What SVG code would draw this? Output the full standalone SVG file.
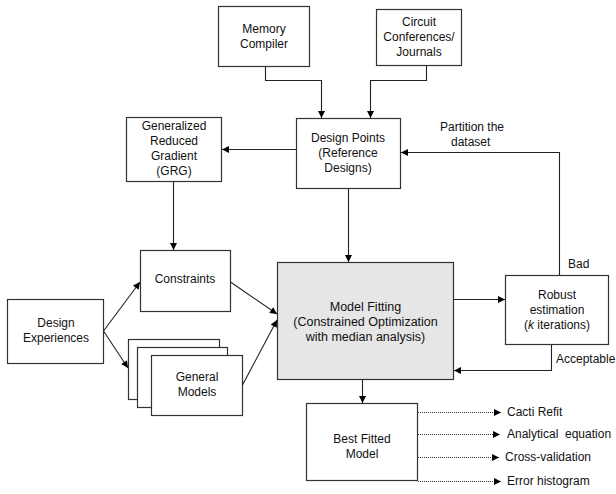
<svg xmlns="http://www.w3.org/2000/svg" width="616" height="494" viewBox="0 0 616 494">
<defs>
<marker id="ah" viewBox="0 0 10 10" refX="10" refY="5" markerWidth="8" markerHeight="7" markerUnits="userSpaceOnUse" orient="auto">
<path d="M0,0 L10,5 L0,10 Z" fill="#000"/>
</marker>
</defs>
<style>
.box{fill:#fff;stroke:#333;stroke-width:1.2}
.main{fill:#e6e6e6;stroke:#333;stroke-width:1.2}
.t{font-family:"Liberation Sans",Arial,sans-serif;font-size:12px;fill:#111;text-anchor:middle}
.l{font-family:"Liberation Sans",Arial,sans-serif;font-size:12px;fill:#111}
.c{fill:none;stroke:#222;stroke-width:1.1;marker-end:url(#ah)}
.d{fill:none;stroke:#333;stroke-width:1;stroke-dasharray:1 1;marker-end:url(#ah)}
</style>
<rect width="616" height="494" fill="#fff"/>
<g id="memory-compiler">
<rect class="box" x="218.5" y="6.5" width="91" height="60"/>
<text class="t" x="264" y="33">Memory</text>
<text class="t" x="264" y="48">Compiler</text>
</g>
<g id="circuit-conferences">
<rect class="box" x="376.5" y="9.5" width="85" height="56"/>
<text class="t" x="419" y="26">Circuit</text>
<text class="t" x="419" y="41">Conferences/</text>
<text class="t" x="419" y="56">Journals</text>
</g>
<g id="design-points">
<rect class="box" x="296.5" y="118.5" width="104" height="70"/>
<text class="t" x="348" y="142">Design Points</text>
<text class="t" x="348" y="157">(Reference</text>
<text class="t" x="348" y="172">Designs)</text>
</g>
<g id="grg">
<rect class="box" x="126.5" y="117.5" width="95" height="64"/>
<text class="t" x="174" y="130">Generalized</text>
<text class="t" x="174" y="145">Reduced</text>
<text class="t" x="174" y="160">Gradient</text>
<text class="t" x="174" y="175">(GRG)</text>
</g>
<g id="constraints">
<rect class="box" x="140.5" y="250.5" width="90" height="61"/>
<text class="t" x="185" y="283">Constraints</text>
</g>
<g id="design-experiences">
<rect class="box" x="7.5" y="299.5" width="96" height="64"/>
<text class="t" x="56" y="327">Design</text>
<text class="t" x="56" y="342">Experiences</text>
</g>
<g id="general-models">
<rect class="box" x="128.5" y="339.5" width="91" height="60"/>
<rect class="box" x="137.5" y="347.5" width="90" height="60"/>
<rect class="box" x="151.5" y="355.5" width="91" height="60"/>
<text class="t" x="197" y="381">General</text>
<text class="t" x="197" y="396">Models</text>
</g>
<g id="model-fitting">
<rect class="main" x="277.5" y="262.5" width="176" height="117"/>
<text class="t" x="365.5" y="311" style="font-size:12.5px">Model Fitting</text>
<text class="t" x="365.5" y="326" style="font-size:12.5px">(Constrained Optimization</text>
<text class="t" x="365.5" y="341" style="font-size:12.5px">with median analysis)</text>
</g>
<g id="robust-estimation">
<rect class="box" x="505.5" y="275.5" width="103" height="69"/>
<text class="t" x="557" y="299">Robust</text>
<text class="t" x="557" y="314">estimation</text>
<text class="t" x="557" y="329">(<tspan font-style="italic">k</tspan> iterations)</text>
</g>
<g id="best-fitted-model">
<rect class="box" x="306.5" y="403.5" width="111" height="77"/>
<text class="t" x="362" y="443">Best Fitted</text>
<text class="t" x="362" y="458">Model</text>
</g>
<g id="outputs">
<text class="l" x="507" y="416">Cacti Refit</text>
<text class="l" x="507" y="438" xml:space="preserve">Analytical  equation</text>
<text class="l" x="505" y="461">Cross-validation</text>
<text class="l" x="507" y="485">Error histogram</text>
</g>
<g id="connectors">
<path class="c" d="M265.5,66 V80.5 H321.5 V118"/>
<path class="c" d="M426.5,66 V80.5 H370.5 V118"/>
<path class="c" d="M296,149.5 H222"/>
<path class="c" d="M173.5,182 V250"/>
<path class="c" d="M348.5,189 V262"/>
<path class="c" d="M559.5,275 V152.5 H401"/>
<text class="l" x="440" y="131">Partition the</text>
<text class="l" x="451" y="146">dataset</text>
<text class="l" x="568" y="268">Bad</text>
<path class="c" d="M103.5,331 L140,282"/>
<path class="c" d="M103.5,331 L128,368"/>
<path class="c" d="M230.5,282 L277,314"/>
<path class="c" d="M242.5,385 L277,320"/>
<path class="c" d="M453.5,299.5 H505"/>
<path class="c" d="M551.5,345 V370.5 H454"/>
<text class="l" x="556" y="363">Acceptable</text>
<path class="c" d="M362.5,380 V403"/>
<path class="d" d="M418,412.5 H501"/>
<path class="d" d="M418,434.5 H500"/>
<path class="d" d="M418,457.5 H499"/>
<path class="d" d="M418,481.5 H501"/>
</g>
</svg>
